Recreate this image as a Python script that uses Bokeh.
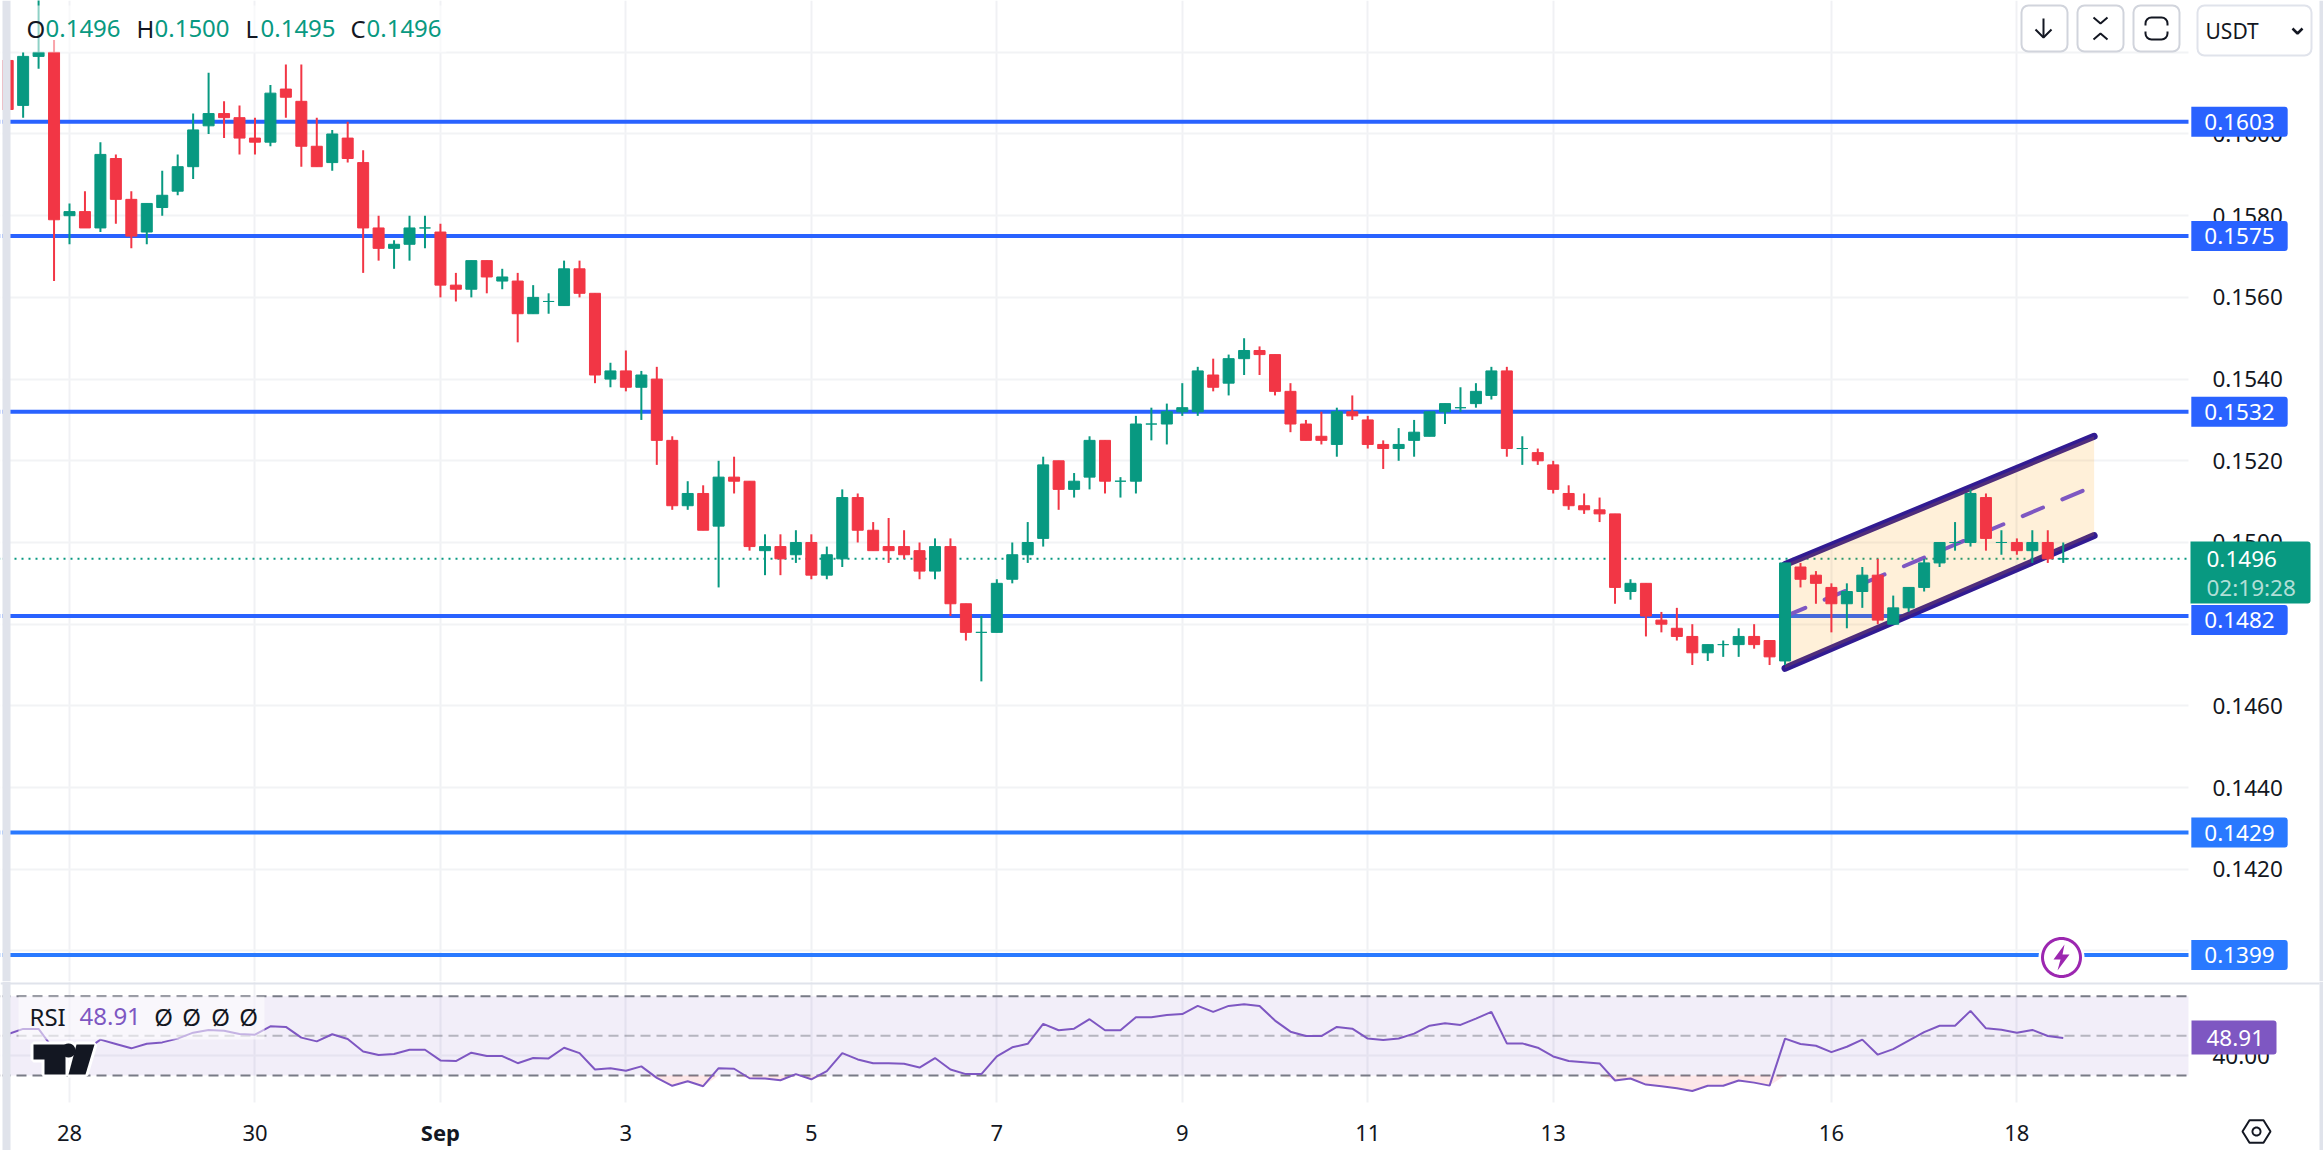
import numpy as np
from bokeh.embed import file_html
from bokeh.layouts import column
from bokeh.models import (BoxAnnotation, FixedTicker, Label, LinearAxis, NumeralTickFormatter,
                          PolyAnnotation, Range1d, Span)
from bokeh.plotting import figure
from bokeh.resources import INLINE

# ---------- data ----------
first_index = -4
opens = [.1618,.1607,.1619,.1620,.1580,.1581,.1577,.1594,.1584,.1576,.1582,.1586,.1592,.1602,.1605,.1604,.1599,.1598,.1611,.1608,
         .1597,.1593,.1599,.1593,.1577,.1572,.1573,.1577,.1576,.1563,.1562,.1569,.1564,.1564,.1556,.1559,.1558,.1567,.1561,.1540,
         .1542,.1538,.1540,.1525,.1509,.1512,.1504,.1516,.1515,.1498,.1499,.1497,.1500,.1492,.1496,.1511,.1503,.1499,.1499,.1498,
         .1493,.1499,.1485,.1478,.1478,.1491,.1497,.1501,.1520,.1513,.1516,.1525,.1515,.1515,.1529,.1529,.1532,.1532,.1541,.1539,
         .1545,.1547,.1546,.1537,.1529,.1526,.1524,.1532,.1530,.1524,.1523,.1525,.1526,.1532,.1533,.1534,.1536,.1542,.1523,.1522,
         .1519,.1512,.1509,.1508,.1507,.1488,.1490,.1481,.1479,.1477,.1473,.1475,.1475,.1477,.1476,.1471,.1494,.1492,.1489,.1485,
         .1488,.1492,.1480,.1484,.1489,.1495,.1500,.1500,.1511,.1500,.1500,.1498,.1500,.1496]
highs = [.1618,.1620,.1634,.1623,.1583,.1586,.1598,.1595,.1586,.1583,.1591,.1595,.1605,.1615,.1608,.1607,.1604,.1612,.1617,.1617,
         .1604,.1601,.1603,.1596,.1580,.1574,.1580,.1580,.1578,.1566,.1569,.1569,.1567,.1566,.1563,.1561,.1569,.1569,.1561,.1544,
         .1547,.1542,.1543,.1526,.1515,.1514,.1520,.1521,.1515,.1502,.1502,.1503,.1502,.1499,.1513,.1512,.1505,.1506,.1503,.1500,
         .1501,.1501,.1485,.1482,.1491,.1500,.1505,.1521,.1520,.1517,.1526,.1525,.1516,.1531,.1533,.1534,.1539,.1543,.1545,.1546,
         .1550,.1548,.1546,.1539,.1530,.1532,.1533,.1536,.1531,.1525,.1528,.1530,.1532,.1534,.1538,.1539,.1543,.1543,.1526,.1523,
         .1520,.1514,.1512,.1511,.1507,.1491,.1490,.1483,.1484,.1480,.1475,.1476,.1479,.1480,.1476,.1495,.1495,.1493,.1490,.1490,
         .1494,.1496,.1487,.1489,.1496,.1500,.1505,.1513,.1512,.1503,.1501,.1503,.1503,.1500]
lows = [.1606,.1604,.1616,.1564,.1573,.1577,.1576,.1578,.1572,.1573,.1580,.1585,.1589,.1600,.1599,.1595,.1595,.1597,.1604,.1592,
        .1592,.1591,.1593,.1566,.1569,.1567,.1569,.1572,.1560,.1559,.1560,.1561,.1562,.1549,.1556,.1556,.1558,.1560,.1539,.1538,
        .1537,.1530,.1519,.1508,.1508,.1503,.1489,.1512,.1498,.1492,.1492,.1495,.1491,.1491,.1494,.1500,.1498,.1495,.1496,.1491,
        .1491,.1482,.1476,.1466,.1478,.1490,.1495,.1499,.1508,.1511,.1513,.1512,.1511,.1512,.1525,.1524,.1531,.1531,.1537,.1536,
        .1541,.1541,.1536,.1527,.1525,.1524,.1521,.1530,.1523,.1518,.1520,.1521,.1526,.1529,.1532,.1533,.1535,.1521,.1519,.1519,
        .1512,.1508,.1507,.1505,.1485,.1486,.1477,.1478,.1476,.1470,.1471,.1472,.1472,.1474,.1470,.1470,.1489,.1485,.1478,.1479,
        .1484,.1480,.1480,.1483,.1488,.1494,.1498,.1499,.1498,.1497,.1497,.1495,.1495,.1495]
closes = [.1606,.1619,.1620,.1579,.1581,.1577,.1595,.1584,.1575,.1583,.1585,.1592,.1601,.1605,.1604,.1599,.1598,.1610,.1609,.1597,
          .1592,.1600,.1594,.1577,.1572,.1573,.1577,.1577,.1563,.1562,.1569,.1565,.1565,.1556,.1560,.1559,.1567,.1561,.1541,.1542,
          .1538,.1541,.1525,.1509,.1512,.1503,.1516,.1515,.1499,.1499,.1496,.1500,.1492,.1497,.1511,.1503,.1498,.1498,.1497,.1493,
          .1499,.1485,.1478,.1478,.1490,.1497,.1500,.1519,.1513,.1515,.1525,.1515,.1515,.1529,.1529,.1532,.1533,.1542,.1538,.1545,
          .1547,.1546,.1537,.1529,.1525,.1525,.1532,.1531,.1524,.1523,.1524,.1527,.1532,.1534,.1533,.1537,.1542,.1523,.1523,.1520,
          .1513,.1509,.1508,.1507,.1489,.1490,.1482,.1480,.1477,.1473,.1475,.1475,.1477,.1475,.1472,.1495,.1491,.1490,.1485,.1488,
          .1492,.1481,.1484,.1489,.1495,.1500,.1500,.1512,.1501,.1500,.1498,.1500,.1496,.1496]
rsi_values = [50.8,53.5,53.5,43.0,43.5,42.5,48.1,45.9,43.7,46.0,46.7,48.6,51.6,53.0,52.6,50.9,50.6,54.8,54.5,49.1,
              47.2,50.8,48.4,42.1,40.3,40.8,43.0,43.0,37.6,37.3,41.5,39.8,39.8,36.2,38.8,38.6,44.0,41.3,33.0,33.7,
              32.4,34.6,28.8,24.8,27.1,24.6,33.7,33.4,28.6,28.5,27.6,30.7,28.1,32.2,41.3,38.1,36.2,36.2,35.9,34.0,
              38.8,33.0,30.7,30.7,39.6,44.2,46.0,56.0,52.8,53.6,58.4,52.8,52.8,59.4,59.4,60.5,61.0,65.1,62.1,65.1,
              65.9,65.1,57.7,52.1,49.9,49.9,54.5,53.6,48.6,47.9,48.7,51.1,55.1,56.3,55.5,58.7,62.1,46.2,46.2,44.0,
              39.6,37.3,36.7,36.1,27.5,28.5,25.4,24.6,23.6,22.2,24.8,24.8,27.5,26.4,24.9,48.6,45.9,45.0,41.8,44.5,
              48.1,40.5,43.3,47.6,51.9,55.1,55.1,62.6,53.8,53.1,51.6,53.0,49.9,48.91]
day_ticks = [0, 12, 24, 36, 48, 60, 72, 84, 96, 114, 126]
day_labels = ["28", "30", "Sep", "3", "5", "7", "9", "11", "13", "16", "18"]
price_ticks = [.1420, .1440, .1460, .1480, .1500, .1520, .1540, .1560, .1580, .1600]
grid_prices = [.1400, .1420, .1440, .1460, .1480, .1500, .1520, .1540, .1560, .1580, .1600, .1620]
levels = [.1603, .1575, .1532, .1482, .1429, .1399]
level_colors = ["#2962FF", "#2962FF", "#2962FF", "#2962FF", "#2979FF", "#2979FF"]
level_shift = [0, 0, 0, -4, 0, 0]
last_price = .1496
channel_x = [111, 131]
channel_low = [.14692, .15017]
channel_high = [.14946, .15260]
channel_mid = [.14819, .151385]
rsi_guides = [70, 50, 30]
header = [("O", "0.1496"), ("H", "0.1500"), ("L", "0.1495"), ("C", "0.1496")]

GREEN, RED, INK, PURPLE, LAV = "#089981", "#F23645", "#131722", "#7E57C2", "#E0E3EB"
FONT = "Noto Sans"
x_range = (-4.4646, 145.84)
x_axis_at = 137.1
time_axis_at = 16.38

index = np.arange(first_index, first_index + len(closes))
o, h, l, c = map(np.array, (opens, highs, lows, closes))
up = c >= o
colors = np.where(up, GREEN, RED).tolist()


def box(fig, left, right, top, bottom, fill, alpha=1.0, line=None, lw=1, radius=0, level="overlay"):
    fig.add_layout(BoxAnnotation(left=left, right=right, top=top, bottom=bottom,
                                 left_units="canvas", right_units="canvas", top_units="canvas", bottom_units="canvas",
                                 fill_color=fill, fill_alpha=alpha, line_color=line, line_width=lw,
                                 line_alpha=1 if line else 0, border_radius=radius, level=level))


def text(fig, x, y, s, size=24, color=INK, align="left", style="normal", alpha=1.0, x_units="canvas"):
    fig.add_layout(Label(x=x, y=y, x_units=x_units, y_units="canvas", text=s, text_font=FONT,
                         text_font_size=f"{size}px", text_color=color, text_align=align,
                         text_baseline="middle", text_font_style=style, text_alpha=alpha, level="overlay"))


def poly(fig, xs, ys, fill=None, line=INK, lw=2):
    fig.add_layout(PolyAnnotation(xs=list(xs), ys=list(ys), xs_units="canvas", ys_units="canvas",
                                  fill_color=fill, fill_alpha=1 if fill else 0, line_color=line,
                                  line_width=lw, line_alpha=1 if line else 0, level="overlay"))


def base(fig):
    fig.outline_line_color = None
    fig.xgrid.ticker = FixedTicker(ticks=day_ticks)
    fig.xgrid.grid_line_color = "#F0F1F4"
    fig.xgrid.grid_line_width = 2
    fig.ygrid.grid_line_color = "#F2F3F5"
    fig.ygrid.grid_line_width = 2


# ---------- price pane ----------
p = figure(width=2323, height=981, output_backend="svg", toolbar_location=None,
           x_range=Range1d(*x_range), y_range=Range1d(.139253, .163268),
           x_axis_location=None, y_axis_location=None,
           min_border_left=0, min_border_right=0, min_border_top=0, min_border_bottom=0)
base(p)
p.ygrid.ticker = FixedTicker(ticks=grid_prices)
axis = LinearAxis(ticker=FixedTicker(ticks=price_ticks), formatter=NumeralTickFormatter(format="0.0000"),
                  axis_line_color=None, major_tick_line_color=None, minor_tick_line_color=None,
                  major_label_standoff=18, major_label_text_font=FONT, major_label_text_font_size="22.5px",
                  major_label_text_color=INK, fixed_location=x_axis_at)
p.add_layout(axis, "right")

for lvl, col in zip(levels, level_colors):
    p.add_layout(Span(location=lvl, dimension="width", line_color=col, line_width=4, level="underlay"))
p.add_layout(Span(location=last_price, dimension="width", line_color=GREEN, line_width=2,
                  line_dash="2 5", level="underlay"))
box(p, 2188, 2323, 0, 981, "white", level="underlay")

p.line(channel_x, channel_low, line_color="#311B92", line_width=7, line_cap="round")
p.line(channel_x, channel_high, line_color="#311B92", line_width=7, line_cap="round")
p.varea(channel_x, channel_low, channel_high, fill_color="#FF9800", fill_alpha=0.15)
p.line(channel_x, channel_mid, line_color=PURPLE, line_width=4, line_dash="22 21", line_cap="round")

p.segment(index, h, index, l, line_color=colors, line_width=2)
p.vbar(index, 0.712, np.maximum(o, c), np.minimum(o, c), fill_color=colors, line_color=colors, line_width=1)

# header legend
box(p, 18, 446, 5, 52, "white", alpha=0.55)
header_x = [26, 136, 245, 350]
header_val_x = [45, 154, 260, 366]
for (k, v), xk, xv in zip(header, header_x, header_val_x):
    text(p, xk, 28, k)
    text(p, xv, 28, v, color=GREEN)

# level labels on the price axis
for lvl, col, sh in zip(levels, level_colors, level_shift):
    p.add_layout(Label(x=2239, y=lvl, x_units="canvas", y_units="data", text=f"{lvl:.4f}", y_offset=sh,
                       text_font=FONT, text_font_size="22.5px", text_color="white", text_align="center",
                       text_baseline="middle", background_fill_color=col, padding=(13, 7),
                       border_radius=(0, 3, 3, 0), level="overlay"))

# last price tag
box(p, 2190, 2310, 541, 603, GREEN, radius=(0, 3, 3, 0))
text(p, 2206, 558, "0.1496", size=22.5, color="white")
text(p, 2206, 587, "02:19:28", size=22.5, color="white", alpha=0.7)

# buttons
for left in (2021, 2077, 2133):
    box(p, left, left + 46, 5, 51, "white", line="#D1D4DC", lw=2, radius=7)
box(p, 2197, 2311, 5, 55, "white", line=LAV, lw=2, radius=7)
poly(p, [2043, 2043], [18, 37])
poly(p, [2035, 2043, 2051, 2043], [29, 37, 29, 37])
poly(p, [2093, 2100, 2107, 2100], [17, 23, 17, 23])
poly(p, [2093, 2100, 2107, 2100], [39, 33, 39, 33])
box(p, 2145, 2167, 17, 39, None, line=INK, lw=2, radius=6)
box(p, 2142, 2148, 25, 31, "white")
box(p, 2164, 2170, 25, 31, "white")
text(p, 2205, 30, "USDT", size=21)
poly(p, [2292, 2297, 2302, 2297], [28, 33, 28, 33], lw=2.5)

# side bars
box(p, 0, 2, 0, 981, "white")
box(p, 2, 10, 0, 981, LAV)
box(p, 2319, 2323, 0, 981, LAV)

# lightning badge
ang = np.linspace(0, 2 * np.pi, 61)
poly(p, 2061 + 23 * np.cos(ang), 957 + 23 * np.sin(ang), fill="white", line=None)
poly(p, 2061 + 19 * np.cos(ang), 957 + 19 * np.sin(ang), fill="white", line="#9C27B0", lw=3)
poly(p, [2064, 2053, 2060, 2057, 2069, 2062], [944, 959, 959, 970, 954, 954], fill="#9C27B0", line=None)

# ---------- RSI pane ----------
r = figure(width=2323, height=169, output_backend="svg", toolbar_location=None,
           x_range=p.x_range, y_range=Range1d(-7.83, 77.41),
           x_axis_location=None, y_axis_location=None,
           min_border_left=0, min_border_right=0, min_border_top=0, min_border_bottom=0)
base(r)
r.ygrid.ticker = FixedTicker(ticks=[40])
r.add_layout(LinearAxis(ticker=FixedTicker(ticks=[40]), formatter=NumeralTickFormatter(format="0.00"),
                        axis_line_color=None, major_tick_line_color=None, minor_tick_line_color=None,
                        major_label_standoff=18, major_label_text_font=FONT, major_label_text_font_size="22.5px",
                        major_label_text_color=INK, fixed_location=x_axis_at), "right")
bottom = LinearAxis(ticker=FixedTicker(ticks=[t for t, s in zip(day_ticks, day_labels) if s != "Sep"]),
                    major_label_overrides={t: s for t, s in zip(day_ticks, day_labels) if s != "Sep"},
                    axis_line_color=None, major_tick_line_color=None, minor_tick_line_color=None,
                    major_label_standoff=16, major_label_text_font=FONT, major_label_text_font_size="22px",
                    major_label_text_color=INK, fixed_location=time_axis_at)
r.add_layout(bottom, "below")
r.add_layout(BoxAnnotation(bottom=rsi_guides[2], top=rsi_guides[0], fill_color=PURPLE, fill_alpha=0.1,
                           line_alpha=0, level="underlay"))
for g, a in zip(rsi_guides, (1, 0.5, 1)):
    r.add_layout(Span(location=g, dimension="width", line_color="#787B86", line_alpha=a, line_width=2,
                      line_dash="10 6", level="underlay"))
box(r, 2188, 2323, 0, 169, "white", level="underlay")
box(r, 0, 2323, 121, 169, "white", level="underlay")
rsi = np.array(rsi_values)
r.varea(index, np.minimum(rsi, rsi_guides[2]), rsi_guides[2], fill_color=RED, fill_alpha=0.12)
r.line(index, rsi, line_color=PURPLE, line_width=2)

# legend (canvas y = page y - 981)
box(r, 18, 264, 15, 58, "white", alpha=0.55)
text(r, 29, 35, "RSI")
text(r, 79, 35, "48.91", color=PURPLE)
for cx in (163, 191, 220, 248):
    text(r, cx, 35, "\u00d8", align="center")

# logo: white halo first, solid shapes on top
logo_t = ([33, 65, 65, 44, 44, 33], [63, 63, 93, 93, 78, 78])
logo_slash = ([76, 94, 85, 68], [63, 63, 93, 93])
logo_dot = (68 + 7 * np.cos(ang), 69 + 7 * np.sin(ang))
for shape in (logo_t, logo_slash, logo_dot):
    poly(r, shape[0], shape[1], fill="white", line="white", lw=6)
for shape in (logo_t, logo_slash, logo_dot):
    poly(r, shape[0], shape[1], fill=INK, line=None)

# labels outside the data area
box(r, 2191, 2276, 39, 73, PURPLE, radius=(0, 3, 3, 0))
text(r, 2206, 56, "48.91", size=22.5, color="white")
text(r, 24, 150, "Sep", size=22, style="bold", align="center", x_units="data")
hex_a = np.arange(0, 6) * np.pi / 3
poly(r, 2256 + 14 * np.cos(hex_a), 150 + 13 * np.sin(hex_a), line=INK, lw=2)
poly(r, 2256 + 4 * np.cos(ang), 150 + 4 * np.sin(ang), line=INK, lw=2)

box(r, 0, 2, 0, 169, "white")
box(r, 2, 10, 0, 169, LAV)
box(r, 2319, 2323, 0, 169, LAV)
box(r, 0, 2319, 1, 3, LAV)

page = column(p, r, spacing=0)
open("out.html", "w").write(file_html(page, INLINE))
